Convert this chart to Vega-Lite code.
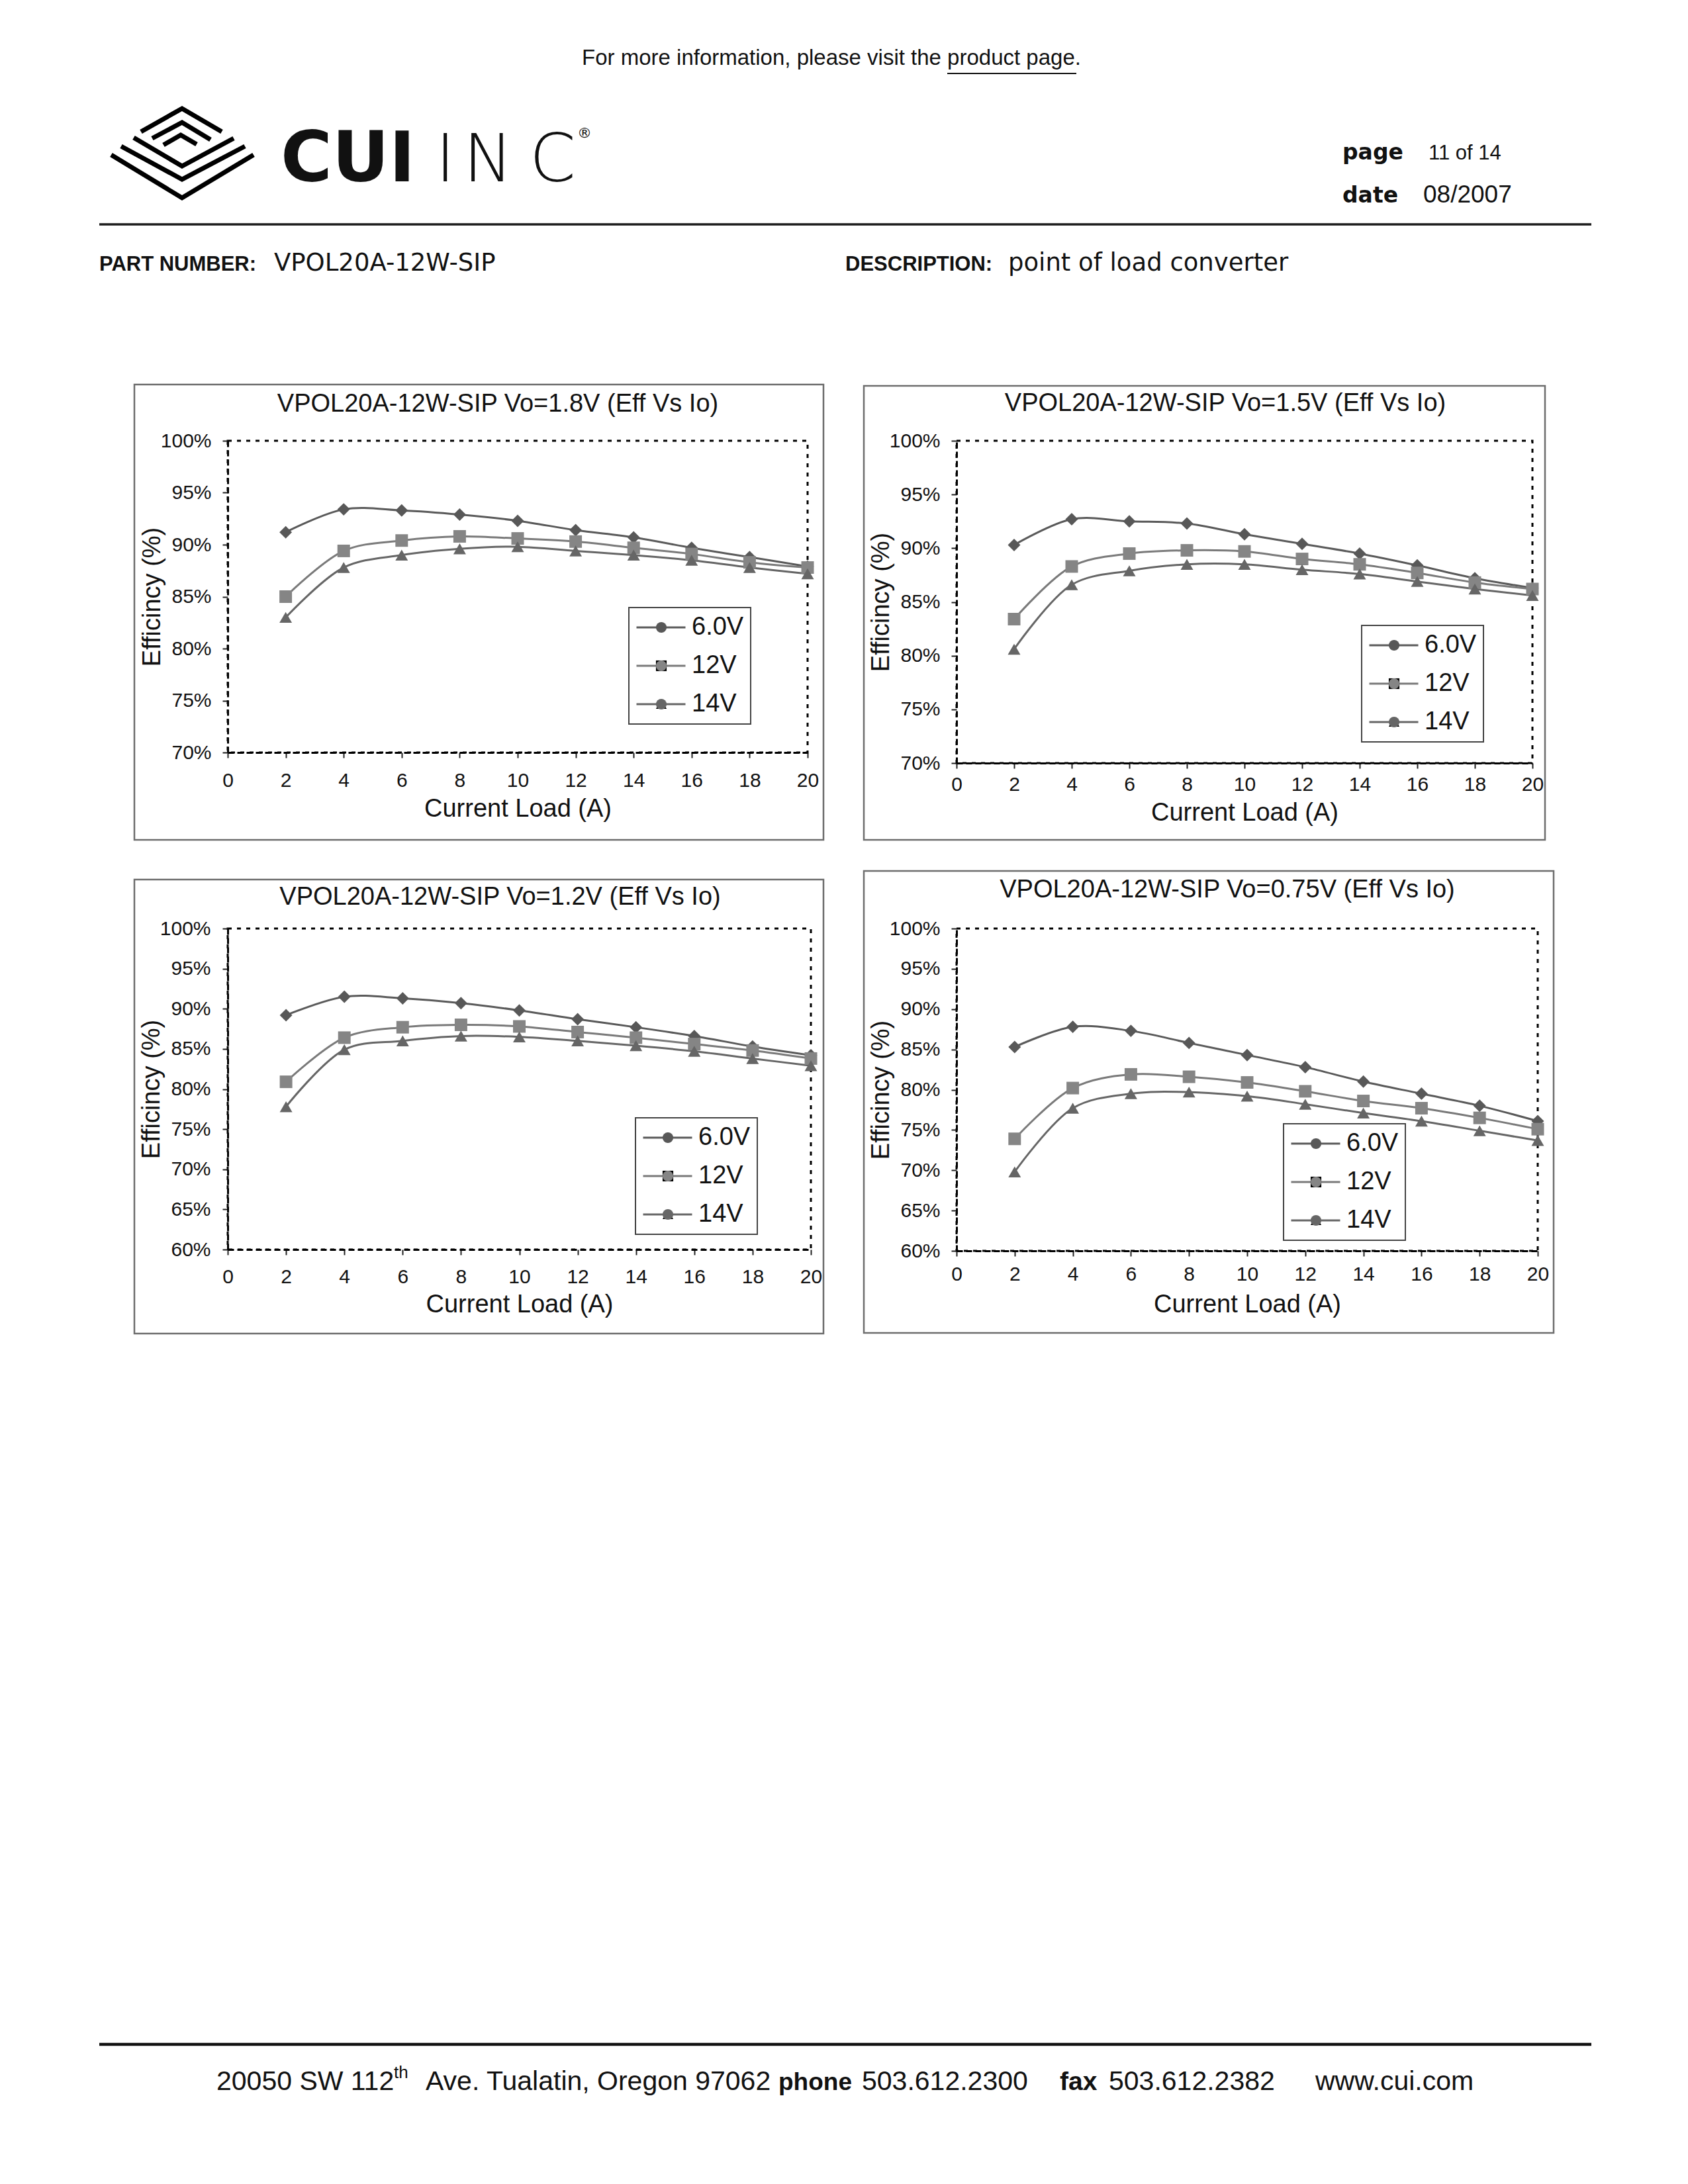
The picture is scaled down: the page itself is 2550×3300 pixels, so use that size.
{
  "$schema": "https://vega.github.io/schema/vega-lite/v6.json",
  "padding": 0,
  "autosize": {"type": "pad"},
  "bounds": "flush",
  "align": "each",
  "columns": 3,
  "spacing": {"row": 250, "column": 220},
  "resolve": {"scale": {"color": "independent", "shape": "independent", "fill": "independent"}, "legend": {"color": "independent", "shape": "independent", "fill": "independent"}},
  "config": {
    "view": {"stroke": null},
    "font": "Liberation Sans",
    "axis": {"labelFont": "Liberation Sans", "labelFontSize": 30, "labelColor": "#111", "titleFont": "Liberation Sans", "titleFontSize": 38, "titleFontWeight": "normal", "titleColor": "#111", "domainColor": "black", "domainWidth": 3, "domainDash": [9, 5], "tickColor": "#222", "tickWidth": 2, "tickSize": 8, "grid": false},
    "title": {"font": "Liberation Sans", "fontSize": 38, "fontWeight": "normal", "color": "#111"},
    "legend": {"orient": "none", "title": null, "padding": 10, "rowPadding": 18, "clipHeight": 40, "labelOffset": 8, "labelFontSize": 38, "labelFont": "Liberation Sans", "labelColor": "#111"}
  },
  "datasets": {
    "v18": [
      {"I": 2, "eff": 91.2, "vin": "6.0V"}, {"I": 4, "eff": 93.4, "vin": "6.0V"}, {"I": 6, "eff": 93.3, "vin": "6.0V"}, {"I": 8, "eff": 92.9, "vin": "6.0V"}, {"I": 10, "eff": 92.3, "vin": "6.0V"}, {"I": 12, "eff": 91.4, "vin": "6.0V"}, {"I": 14, "eff": 90.7, "vin": "6.0V"}, {"I": 16, "eff": 89.7, "vin": "6.0V"}, {"I": 18, "eff": 88.8, "vin": "6.0V"}, {"I": 20, "eff": 87.9, "vin": "6.0V"},
      {"I": 2, "eff": 85.0, "vin": "12V"}, {"I": 4, "eff": 89.4, "vin": "12V"}, {"I": 6, "eff": 90.4, "vin": "12V"}, {"I": 8, "eff": 90.8, "vin": "12V"}, {"I": 10, "eff": 90.6, "vin": "12V"}, {"I": 12, "eff": 90.3, "vin": "12V"}, {"I": 14, "eff": 89.7, "vin": "12V"}, {"I": 16, "eff": 89.1, "vin": "12V"}, {"I": 18, "eff": 88.3, "vin": "12V"}, {"I": 20, "eff": 87.8, "vin": "12V"},
      {"I": 2, "eff": 83.0, "vin": "14V"}, {"I": 4, "eff": 87.8, "vin": "14V"}, {"I": 6, "eff": 89.0, "vin": "14V"}, {"I": 8, "eff": 89.6, "vin": "14V"}, {"I": 10, "eff": 89.8, "vin": "14V"}, {"I": 12, "eff": 89.4, "vin": "14V"}, {"I": 14, "eff": 89.0, "vin": "14V"}, {"I": 16, "eff": 88.5, "vin": "14V"}, {"I": 18, "eff": 87.8, "vin": "14V"}, {"I": 20, "eff": 87.2, "vin": "14V"}
    ],
    "v15": [
      {"I": 2, "eff": 90.3, "vin": "6.0V"}, {"I": 4, "eff": 92.7, "vin": "6.0V"}, {"I": 6, "eff": 92.5, "vin": "6.0V"}, {"I": 8, "eff": 92.3, "vin": "6.0V"}, {"I": 10, "eff": 91.3, "vin": "6.0V"}, {"I": 12, "eff": 90.4, "vin": "6.0V"}, {"I": 14, "eff": 89.5, "vin": "6.0V"}, {"I": 16, "eff": 88.4, "vin": "6.0V"}, {"I": 18, "eff": 87.2, "vin": "6.0V"}, {"I": 20, "eff": 86.3, "vin": "6.0V"},
      {"I": 2, "eff": 83.4, "vin": "12V"}, {"I": 4, "eff": 88.3, "vin": "12V"}, {"I": 6, "eff": 89.5, "vin": "12V"}, {"I": 8, "eff": 89.8, "vin": "12V"}, {"I": 10, "eff": 89.7, "vin": "12V"}, {"I": 12, "eff": 89.0, "vin": "12V"}, {"I": 14, "eff": 88.5, "vin": "12V"}, {"I": 16, "eff": 87.7, "vin": "12V"}, {"I": 18, "eff": 86.8, "vin": "12V"}, {"I": 20, "eff": 86.2, "vin": "12V"},
      {"I": 2, "eff": 80.6, "vin": "14V"}, {"I": 4, "eff": 86.6, "vin": "14V"}, {"I": 6, "eff": 87.9, "vin": "14V"}, {"I": 8, "eff": 88.5, "vin": "14V"}, {"I": 10, "eff": 88.5, "vin": "14V"}, {"I": 12, "eff": 88.0, "vin": "14V"}, {"I": 14, "eff": 87.6, "vin": "14V"}, {"I": 16, "eff": 86.9, "vin": "14V"}, {"I": 18, "eff": 86.2, "vin": "14V"}, {"I": 20, "eff": 85.6, "vin": "14V"}
    ],
    "v12": [
      {"I": 2, "eff": 89.2, "vin": "6.0V"}, {"I": 4, "eff": 91.5, "vin": "6.0V"}, {"I": 6, "eff": 91.3, "vin": "6.0V"}, {"I": 8, "eff": 90.7, "vin": "6.0V"}, {"I": 10, "eff": 89.8, "vin": "6.0V"}, {"I": 12, "eff": 88.7, "vin": "6.0V"}, {"I": 14, "eff": 87.7, "vin": "6.0V"}, {"I": 16, "eff": 86.6, "vin": "6.0V"}, {"I": 18, "eff": 85.3, "vin": "6.0V"}, {"I": 20, "eff": 84.2, "vin": "6.0V"},
      {"I": 2, "eff": 80.9, "vin": "12V"}, {"I": 4, "eff": 86.4, "vin": "12V"}, {"I": 6, "eff": 87.7, "vin": "12V"}, {"I": 8, "eff": 88.0, "vin": "12V"}, {"I": 10, "eff": 87.8, "vin": "12V"}, {"I": 12, "eff": 87.1, "vin": "12V"}, {"I": 14, "eff": 86.4, "vin": "12V"}, {"I": 16, "eff": 85.6, "vin": "12V"}, {"I": 18, "eff": 84.8, "vin": "12V"}, {"I": 20, "eff": 83.8, "vin": "12V"},
      {"I": 2, "eff": 77.8, "vin": "14V"}, {"I": 4, "eff": 84.9, "vin": "14V"}, {"I": 6, "eff": 86.0, "vin": "14V"}, {"I": 8, "eff": 86.6, "vin": "14V"}, {"I": 10, "eff": 86.5, "vin": "14V"}, {"I": 12, "eff": 86.0, "vin": "14V"}, {"I": 14, "eff": 85.4, "vin": "14V"}, {"I": 16, "eff": 84.7, "vin": "14V"}, {"I": 18, "eff": 83.8, "vin": "14V"}, {"I": 20, "eff": 82.9, "vin": "14V"}
    ],
    "v075": [
      {"I": 2, "eff": 85.3, "vin": "6.0V"}, {"I": 4, "eff": 87.8, "vin": "6.0V"}, {"I": 6, "eff": 87.3, "vin": "6.0V"}, {"I": 8, "eff": 85.8, "vin": "6.0V"}, {"I": 10, "eff": 84.3, "vin": "6.0V"}, {"I": 12, "eff": 82.8, "vin": "6.0V"}, {"I": 14, "eff": 81.0, "vin": "6.0V"}, {"I": 16, "eff": 79.5, "vin": "6.0V"}, {"I": 18, "eff": 78.0, "vin": "6.0V"}, {"I": 20, "eff": 76.1, "vin": "6.0V"},
      {"I": 2, "eff": 73.9, "vin": "12V"}, {"I": 4, "eff": 80.2, "vin": "12V"}, {"I": 6, "eff": 81.9, "vin": "12V"}, {"I": 8, "eff": 81.6, "vin": "12V"}, {"I": 10, "eff": 80.9, "vin": "12V"}, {"I": 12, "eff": 79.8, "vin": "12V"}, {"I": 14, "eff": 78.6, "vin": "12V"}, {"I": 16, "eff": 77.7, "vin": "12V"}, {"I": 18, "eff": 76.5, "vin": "12V"}, {"I": 20, "eff": 75.1, "vin": "12V"},
      {"I": 2, "eff": 69.8, "vin": "14V"}, {"I": 4, "eff": 77.7, "vin": "14V"}, {"I": 6, "eff": 79.5, "vin": "14V"}, {"I": 8, "eff": 79.7, "vin": "14V"}, {"I": 10, "eff": 79.2, "vin": "14V"}, {"I": 12, "eff": 78.2, "vin": "14V"}, {"I": 14, "eff": 77.1, "vin": "14V"}, {"I": 16, "eff": 76.1, "vin": "14V"}, {"I": 18, "eff": 74.9, "vin": "14V"}, {"I": 20, "eff": 73.7, "vin": "14V"}
    ]
  },
  "concat": [
    {
      "width": 124, "height": 410,
      "data": {"values": [{}]},
      "layer": [
        {"mark": {"type": "rect", "fillOpacity": 0, "stroke": "#6e6e6e", "strokeWidth": 2.5}, "encoding": {"x": {"value": 203}, "x2": {"value": 1244}, "y": {"value": 575}, "y2": {"value": 1263}}},
        {"mark": {"type": "rect", "fillOpacity": 0, "stroke": "#6e6e6e", "strokeWidth": 2.5}, "encoding": {"x": {"value": 1305}, "x2": {"value": 2334}, "y": {"value": 577}, "y2": {"value": 1263}}},
        {"mark": {"type": "rect", "fillOpacity": 0, "stroke": "#6e6e6e", "strokeWidth": 2.5}, "encoding": {"x": {"value": 203}, "x2": {"value": 1244}, "y": {"value": 1323}, "y2": {"value": 2009}}},
        {"mark": {"type": "rect", "fillOpacity": 0, "stroke": "#6e6e6e", "strokeWidth": 2.5}, "encoding": {"x": {"value": 1305}, "x2": {"value": 2347}, "y": {"value": 1310}, "y2": {"value": 2008}}},
        {"mark": {"type": "rule", "color": "#1a1a1a", "strokeWidth": 3.5}, "encoding": {"x": {"value": 150}, "x2": {"value": 2404}, "y": {"value": 333}}},
        {"mark": {"type": "rule", "color": "#111", "strokeWidth": 2}, "encoding": {"x": {"value": 1431}, "x2": {"value": 1626}, "y": {"value": 105}}},
        {"mark": {"type": "text", "text": "For more information, please visit the product page.", "font": "Liberation Sans", "fontSize": 33, "align": "center", "baseline": "alphabetic", "color": "#111"}, "encoding": {"x": {"value": 1256}, "y": {"value": 92}}},
        {"mark": {"type": "point", "filled": false, "size": 4, "color": "black", "opacity": 1, "strokeWidth": 7, "shape": "M-107,3L0,68L108,3M-92,-10L0,40L95,-10M-73,-23L0,20L78,-22M-62,-32L0,-67L60,-32M-45,-22L0,-46L43,-20M-28,-12L-2,-27L22,-13"}, "encoding": {"x": {"value": 275}, "y": {"value": 225}}},
        {"mark": {"type": "text", "text": "CUI", "font": "DejaVu Sans", "fontWeight": "bold", "fontSize": 106, "align": "left", "baseline": "alphabetic", "color": "#111"}, "encoding": {"x": {"value": 424}, "y": {"value": 268}}},
        {"mark": {"type": "text", "text": "I", "font": "DejaVu Sans", "fontWeight": 200, "fontSize": 100, "align": "left", "baseline": "alphabetic", "color": "#111"}, "encoding": {"x": {"value": 658}, "y": {"value": 268}}},
        {"mark": {"type": "text", "text": "N", "font": "DejaVu Sans", "fontWeight": 200, "fontSize": 100, "align": "left", "baseline": "alphabetic", "color": "#111"}, "encoding": {"x": {"value": 700}, "y": {"value": 268}}},
        {"mark": {"type": "text", "text": "C", "font": "DejaVu Sans", "fontWeight": 200, "fontSize": 100, "align": "left", "baseline": "alphabetic", "color": "#111"}, "encoding": {"x": {"value": 800}, "y": {"value": 268}}},
        {"mark": {"type": "text", "text": "®", "font": "DejaVu Sans", "fontSize": 22, "align": "left", "baseline": "alphabetic", "color": "#111"}, "encoding": {"x": {"value": 872}, "y": {"value": 202}}},
        {"mark": {"type": "text", "text": "page", "font": "DejaVu Sans", "fontWeight": "bold", "fontSize": 33, "align": "left", "baseline": "alphabetic", "color": "#111"}, "encoding": {"x": {"value": 2028}, "y": {"value": 235}}},
        {"mark": {"type": "text", "text": "11 of 14", "font": "Liberation Sans", "fontSize": 31, "align": "left", "baseline": "alphabetic", "color": "#111"}, "encoding": {"x": {"value": 2158}, "y": {"value": 235}}},
        {"mark": {"type": "text", "text": "date", "font": "DejaVu Sans", "fontWeight": "bold", "fontSize": 33, "align": "left", "baseline": "alphabetic", "color": "#111"}, "encoding": {"x": {"value": 2028}, "y": {"value": 300}}},
        {"mark": {"type": "text", "text": "08/2007", "font": "Liberation Sans", "fontSize": 37, "align": "left", "baseline": "alphabetic", "color": "#111"}, "encoding": {"x": {"value": 2150}, "y": {"value": 300}}},
        {"mark": {"type": "text", "text": "PART NUMBER:", "font": "Liberation Sans", "fontWeight": "bold", "fontSize": 31, "align": "left", "baseline": "alphabetic", "color": "#111"}, "encoding": {"x": {"value": 150}, "y": {"value": 403}}},
        {"mark": {"type": "text", "text": "VPOL20A-12W-SIP", "font": "DejaVu Sans", "fontSize": 37, "align": "left", "baseline": "alphabetic", "color": "#111"}, "encoding": {"x": {"value": 414}, "y": {"value": 403}}},
        {"mark": {"type": "text", "text": "DESCRIPTION:", "font": "Liberation Sans", "fontWeight": "bold", "fontSize": 31, "align": "left", "baseline": "alphabetic", "color": "#111"}, "encoding": {"x": {"value": 1277}, "y": {"value": 403}}},
        {"mark": {"type": "text", "text": "point of load converter", "font": "DejaVu Sans", "fontSize": 37, "align": "left", "baseline": "alphabetic", "color": "#111"}, "encoding": {"x": {"value": 1523}, "y": {"value": 403}}},
        {"mark": {"type": "rule", "color": "#111", "strokeWidth": 4.5}, "encoding": {"x": {"value": 150}, "x2": {"value": 2404}, "y": {"value": 3083}}},
        {"mark": {"type": "text", "text": "20050 SW 112", "font": "Liberation Sans", "fontSize": 41, "align": "left", "baseline": "alphabetic", "color": "#111"}, "encoding": {"x": {"value": 327}, "y": {"value": 3152}}},
        {"mark": {"type": "text", "text": "th", "font": "Liberation Sans", "fontSize": 26, "align": "left", "baseline": "alphabetic", "color": "#111"}, "encoding": {"x": {"value": 595}, "y": {"value": 3134}}},
        {"mark": {"type": "text", "text": "Ave. Tualatin, Oregon 97062", "font": "Liberation Sans", "fontSize": 41, "align": "left", "baseline": "alphabetic", "color": "#111"}, "encoding": {"x": {"value": 643}, "y": {"value": 3152}}},
        {"mark": {"type": "text", "text": "phone", "font": "Liberation Sans", "fontWeight": "bold", "fontSize": 37, "align": "left", "baseline": "alphabetic", "color": "#111"}, "encoding": {"x": {"value": 1176}, "y": {"value": 3152}}},
        {"mark": {"type": "text", "text": "503.612.2300", "font": "Liberation Sans", "fontSize": 41, "align": "left", "baseline": "alphabetic", "color": "#111"}, "encoding": {"x": {"value": 1302}, "y": {"value": 3152}}},
        {"mark": {"type": "text", "text": "fax", "font": "Liberation Sans", "fontWeight": "bold", "fontSize": 39, "align": "left", "baseline": "alphabetic", "color": "#111"}, "encoding": {"x": {"value": 1601}, "y": {"value": 3152}}},
        {"mark": {"type": "text", "text": "503.612.2382", "font": "Liberation Sans", "fontSize": 41, "align": "left", "baseline": "alphabetic", "color": "#111"}, "encoding": {"x": {"value": 1675}, "y": {"value": 3152}}},
        {"mark": {"type": "text", "text": "www.cui.com", "font": "Liberation Sans", "fontSize": 41, "align": "left", "baseline": "alphabetic", "color": "#111"}, "encoding": {"x": {"value": 1987}, "y": {"value": 3152}}}
      ]
    },
    {"width": 1, "height": 1, "data": {"values": [{}]}, "mark": {"type": "text", "text": ""}},
    {"width": 1, "height": 1, "data": {"values": [{}]}, "mark": {"type": "text", "text": ""}},
    {"width": 1, "height": 1, "data": {"values": [{}]}, "mark": {"type": "text", "text": ""}},
    {
      "width": 876, "height": 471,
      "data": {"name": "v18"},
      "view": {"stroke": "black", "strokeWidth": 3, "strokeDash": [6, 8]},
      "title": {"text": "VPOL20A-12W-SIP Vo=1.8V (Eff Vs Io)", "anchor": "middle", "frame": "group", "dx": -30, "offset": -9, "baseline": "alphabetic"},
      "encoding": {
        "x": {"field": "I", "type": "quantitative", "scale": {"domain": [0, 20], "nice": false}, "axis": {"values": [0, 2, 4, 6, 8, 10, 12, 14, 16, 18, 20], "title": "Current Load (A)", "labelPadding": 19, "titlePadding": 9, "labelFlush": false, "labelOverlap": false}},
        "y": {"field": "eff", "type": "quantitative", "scale": {"domain": [70, 100], "nice": false, "zero": false}, "axis": {"values": [70, 75, 80, 85, 90, 95, 100], "labelExpr": "datum.value + '%'", "title": "Efficincy (%)", "labelPadding": 17, "titlePadding": -7, "labelOverlap": false}},
        "color": {"field": "vin", "type": "nominal", "scale": {"domain": ["6.0V", "12V", "14V"], "range": ["#5a5a5a", "#7a7a7a", "#666666"]},
          "legend": {"legendX": 606, "legendY": 252, "symbolType": "stroke", "symbolSize": 5476, "symbolStrokeWidth": 3, "strokeColor": "#444", "fillColor": "white", "encode": {"legend": {"update": {"strokeWidth": {"value": 2}}}}}}
      },
      "layer": [
        {"mark": {"type": "line", "interpolate": "catmull-rom", "strokeWidth": 3}},
        {"mark": {"type": "point", "filled": true, "size": 360, "opacity": 1}, "encoding": {
          "shape": {"field": "vin", "type": "nominal", "sort": ["6.0V", "12V", "14V"], "scale": {"range": ["diamond", "square", "triangle-up"]},
            "legend": {"legendX": 626, "legendY": 252, "symbolSize": 260, "symbolStrokeWidth": 0, "strokeColor": "transparent", "fillColor": "transparent", "labelExpr": "''"}},
          "fill": {"field": "vin", "type": "nominal", "sort": ["6.0V", "12V", "14V"], "scale": {"range": ["#585858", "#858585", "#666666"]},
            "legend": {"legendX": 626, "legendY": 252, "symbolSize": 260, "symbolStrokeWidth": 0, "strokeColor": "transparent", "fillColor": "transparent", "labelExpr": "''"}}}}
      ]
    },
    {
      "width": 870, "height": 487,
      "data": {"name": "v15"},
      "view": {"stroke": "black", "strokeWidth": 3, "strokeDash": [6, 8]},
      "title": {"text": "VPOL20A-12W-SIP Vo=1.5V (Eff Vs Io)", "anchor": "middle", "frame": "group", "dx": -29, "offset": -8, "baseline": "alphabetic"},
      "encoding": {
        "x": {"field": "I", "type": "quantitative", "scale": {"domain": [0, 20], "nice": false}, "axis": {"values": [0, 2, 4, 6, 8, 10, 12, 14, 16, 18, 20], "title": "Current Load (A)", "labelPadding": 9, "titlePadding": 9, "labelFlush": false, "labelOverlap": false}},
        "y": {"field": "eff", "type": "quantitative", "scale": {"domain": [70, 100], "nice": false, "zero": false}, "axis": {"values": [70, 75, 80, 85, 90, 95, 100], "labelExpr": "datum.value + '%'", "title": "Efficincy (%)", "labelPadding": 17, "titlePadding": -7, "labelOverlap": false}},
        "color": {"field": "vin", "type": "nominal", "scale": {"domain": ["6.0V", "12V", "14V"], "range": ["#5a5a5a", "#7a7a7a", "#666666"]},
          "legend": {"legendX": 612, "legendY": 279, "symbolType": "stroke", "symbolSize": 5476, "symbolStrokeWidth": 3, "strokeColor": "#444", "fillColor": "white", "encode": {"legend": {"update": {"strokeWidth": {"value": 2}}}}}}
      },
      "layer": [
        {"mark": {"type": "line", "interpolate": "catmull-rom", "strokeWidth": 3}},
        {"mark": {"type": "point", "filled": true, "size": 360, "opacity": 1}, "encoding": {
          "shape": {"field": "vin", "type": "nominal", "sort": ["6.0V", "12V", "14V"], "scale": {"range": ["diamond", "square", "triangle-up"]},
            "legend": {"legendX": 632, "legendY": 279, "symbolSize": 260, "symbolStrokeWidth": 0, "strokeColor": "transparent", "fillColor": "transparent", "labelExpr": "''"}},
          "fill": {"field": "vin", "type": "nominal", "sort": ["6.0V", "12V", "14V"], "scale": {"range": ["#585858", "#858585", "#666666"]},
            "legend": {"legendX": 632, "legendY": 279, "symbolSize": 260, "symbolStrokeWidth": 0, "strokeColor": "transparent", "fillColor": "transparent", "labelExpr": "''"}}}}
      ]
    },
    {"width": 1, "height": 1, "data": {"values": [{}]}, "mark": {"type": "text", "text": ""}},
    {
      "width": 881, "height": 485,
      "data": {"name": "v12"},
      "view": {"stroke": "black", "strokeWidth": 3, "strokeDash": [6, 8]},
      "title": {"text": "VPOL20A-12W-SIP Vo=1.2V (Eff Vs Io)", "anchor": "middle", "frame": "group", "dx": -29, "offset": -17, "baseline": "alphabetic"},
      "encoding": {
        "x": {"field": "I", "type": "quantitative", "scale": {"domain": [0, 20], "nice": false}, "axis": {"values": [0, 2, 4, 6, 8, 10, 12, 14, 16, 18, 20], "title": "Current Load (A)", "labelPadding": 18, "titlePadding": 8, "labelFlush": false, "labelOverlap": false}},
        "y": {"field": "eff", "type": "quantitative", "scale": {"domain": [60, 100], "nice": false, "zero": false}, "axis": {"values": [60, 65, 70, 75, 80, 85, 90, 95, 100], "labelExpr": "datum.value + '%'", "title": "Efficincy (%)", "labelPadding": 18, "titlePadding": -7, "labelOverlap": false}},
        "color": {"field": "vin", "type": "nominal", "scale": {"domain": ["6.0V", "12V", "14V"], "range": ["#5a5a5a", "#7a7a7a", "#666666"]},
          "legend": {"legendX": 616, "legendY": 286, "symbolType": "stroke", "symbolSize": 5476, "symbolStrokeWidth": 3, "strokeColor": "#444", "fillColor": "white", "encode": {"legend": {"update": {"strokeWidth": {"value": 2}}}}}}
      },
      "layer": [
        {"mark": {"type": "line", "interpolate": "catmull-rom", "strokeWidth": 3}},
        {"mark": {"type": "point", "filled": true, "size": 360, "opacity": 1}, "encoding": {
          "shape": {"field": "vin", "type": "nominal", "sort": ["6.0V", "12V", "14V"], "scale": {"range": ["diamond", "square", "triangle-up"]},
            "legend": {"legendX": 636, "legendY": 286, "symbolSize": 260, "symbolStrokeWidth": 0, "strokeColor": "transparent", "fillColor": "transparent", "labelExpr": "''"}},
          "fill": {"field": "vin", "type": "nominal", "sort": ["6.0V", "12V", "14V"], "scale": {"range": ["#585858", "#858585", "#666666"]},
            "legend": {"legendX": 636, "legendY": 286, "symbolSize": 260, "symbolStrokeWidth": 0, "strokeColor": "transparent", "fillColor": "transparent", "labelExpr": "''"}}}}
      ]
    },
    {
      "width": 878, "height": 487,
      "data": {"name": "v075"},
      "view": {"stroke": "black", "strokeWidth": 3, "strokeDash": [6, 8]},
      "title": {"text": "VPOL20A-12W-SIP Vo=0.75V (Eff Vs Io)", "anchor": "middle", "frame": "group", "dx": -30, "offset": -6, "baseline": "alphabetic"},
      "encoding": {
        "x": {"field": "I", "type": "quantitative", "scale": {"domain": [0, 20], "nice": false}, "axis": {"values": [0, 2, 4, 6, 8, 10, 12, 14, 16, 18, 20], "title": "Current Load (A)", "labelPadding": 12, "titlePadding": 12, "labelFlush": false, "labelOverlap": false}},
        "y": {"field": "eff", "type": "quantitative", "scale": {"domain": [60, 100], "nice": false, "zero": false}, "axis": {"values": [60, 65, 70, 75, 80, 85, 90, 95, 100], "labelExpr": "datum.value + '%'", "title": "Efficincy (%)", "labelPadding": 17, "titlePadding": -7, "labelOverlap": false}},
        "color": {"field": "vin", "type": "nominal", "scale": {"domain": ["6.0V", "12V", "14V"], "range": ["#5a5a5a", "#7a7a7a", "#666666"]},
          "legend": {"legendX": 494, "legendY": 295, "symbolType": "stroke", "symbolSize": 5476, "symbolStrokeWidth": 3, "strokeColor": "#444", "fillColor": "white", "encode": {"legend": {"update": {"strokeWidth": {"value": 2}}}}}}
      },
      "layer": [
        {"mark": {"type": "line", "interpolate": "catmull-rom", "strokeWidth": 3}},
        {"mark": {"type": "point", "filled": true, "size": 360, "opacity": 1}, "encoding": {
          "shape": {"field": "vin", "type": "nominal", "sort": ["6.0V", "12V", "14V"], "scale": {"range": ["diamond", "square", "triangle-up"]},
            "legend": {"legendX": 514, "legendY": 295, "symbolSize": 260, "symbolStrokeWidth": 0, "strokeColor": "transparent", "fillColor": "transparent", "labelExpr": "''"}},
          "fill": {"field": "vin", "type": "nominal", "sort": ["6.0V", "12V", "14V"], "scale": {"range": ["#585858", "#858585", "#666666"]},
            "legend": {"legendX": 514, "legendY": 295, "symbolSize": 260, "symbolStrokeWidth": 0, "strokeColor": "transparent", "fillColor": "transparent", "labelExpr": "''"}}}}
      ]
    }
  ]
}
